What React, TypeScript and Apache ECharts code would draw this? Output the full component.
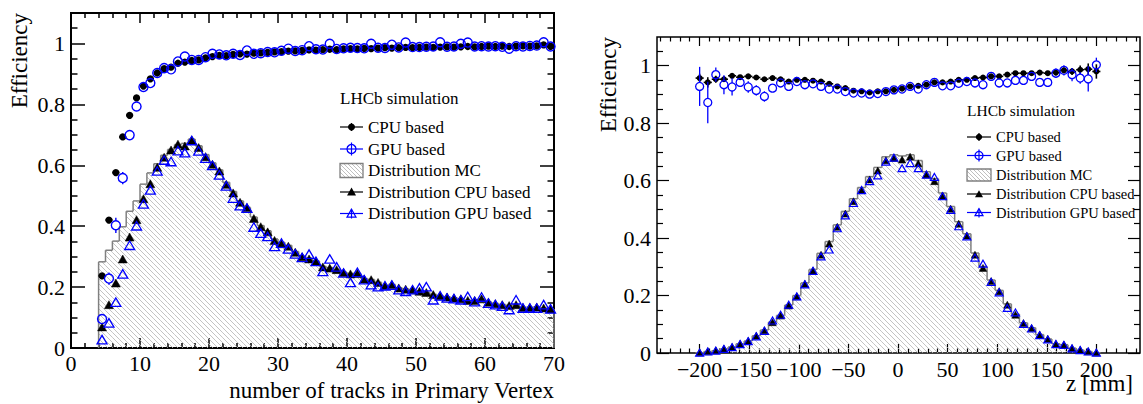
import React, { useEffect, useRef } from "react";
import * as echarts from "echarts";

// ---------------- Left panel: efficiency vs number of tracks ----------------
const trackBins = [4.5,5.5,6.5,7.5,8.5,9.5,10.5,11.5,12.5,13.5,14.5,15.5,16.5,17.5,18.5,19.5,20.5,21.5,22.5,23.5,24.5,25.5,26.5,27.5,28.5,29.5,30.5,31.5,32.5,33.5,34.5,35.5,36.5,37.5,38.5,39.5,40.5,41.5,42.5,43.5,44.5,45.5,46.5,47.5,48.5,49.5,50.5,51.5,52.5,53.5,54.5,55.5,56.5,57.5,58.5,59.5,60.5,61.5,62.5,63.5,64.5,65.5,66.5,67.5,68.5,69.5];
const trackHalfWidth = 0.5;
const mcTracks = [
  0.283,0.321,0.351,0.398,0.449,0.483,0.538,0.575,0.605,0.633,0.652,0.668,0.672,0.686,0.664,0.635,0.608,0.585,
  0.544,0.514,0.483,0.462,0.430,0.402,0.385,0.358,0.347,0.337,
  0.317,0.302,0.295,0.286,0.268,0.264,0.258,0.249,0.245,0.245,
  0.228,0.225,0.216,0.205,0.209,0.198,0.194,0.192,0.187,0.183,
  0.176,0.172,0.168,0.165,0.162,0.157,0.157,0.161,0.151,0.146,
  0.143,0.140,0.142,0.134,0.134,0.135,0.131,0.128];
const cpuDistTracks = [
  0.068,0.141,0.212,0.291,0.363,0.420,0.489,0.538,0.592,0.625,0.649,0.668,0.662,0.682,0.657,0.627,0.602,0.580,
  0.536,0.508,0.477,0.460,0.424,0.397,0.380,0.352,0.341,0.333,
  0.313,0.298,0.291,0.283,0.265,0.261,0.256,0.247,0.242,0.243,
  0.225,0.223,0.214,0.203,0.207,0.196,0.192,0.190,0.185,0.181,
  0.174,0.170,0.166,0.163,0.160,0.155,0.155,0.160,0.149,0.144,
  0.141,0.138,0.141,0.132,0.132,0.133,0.130,0.127];
const gpuDistTracks = [
  0.026,0.081,0.149,0.242,0.336,0.400,0.472,0.518,0.580,0.616,0.611,0.647,0.640,0.680,0.646,0.622,0.598,0.567,
  0.531,0.491,0.466,0.458,0.396,0.376,0.365,0.332,0.343,0.324,
  0.308,0.296,0.307,0.283,0.250,0.291,0.265,0.245,0.214,0.247,
  0.223,0.207,0.200,0.203,0.205,0.190,0.185,0.190,0.196,0.200,
  0.157,0.170,0.163,0.161,0.157,0.168,0.151,0.166,0.146,0.141,
  0.136,0.125,0.157,0.130,0.130,0.130,0.141,0.127];
const cpuEffTracks = [
  0.237,0.420,0.576,0.693,0.764,0.821,0.860,0.884,0.903,0.917,0.922,0.935,0.939,0.944,0.946,0.953,0.957,0.961,
  0.960,0.964,0.966,0.965,0.968,0.969,0.971,0.972,0.973,0.975,
  0.976,0.977,0.979,0.978,0.980,0.981,0.980,0.982,0.983,0.982,
  0.984,0.983,0.985,0.986,0.985,0.986,0.987,0.986,0.987,0.988,
  0.987,0.988,0.989,0.988,0.989,0.990,0.989,0.990,0.991,0.990,
  0.991,0.990,0.991,0.992,0.991,0.992,0.995,0.990];
const gpuEffTracks = [
  0.095,0.228,0.403,0.558,0.699,0.793,0.857,0.870,0.903,0.919,0.915,0.941,0.957,0.946,0.946,0.955,0.966,0.964,
  0.961,0.966,0.962,0.977,0.966,0.968,0.972,0.971,0.976,0.983,
  0.975,0.978,0.991,0.981,0.980,0.999,0.982,0.984,0.986,0.985,
  0.984,0.999,0.986,0.985,0.996,0.987,1.003,0.988,0.988,0.989,
  0.990,1.004,0.989,0.990,0.999,1.003,0.990,0.991,0.990,0.991,
  0.989,0.983,0.991,0.990,0.992,0.993,1.004,0.990];
const cpuErrTracks = [
  0.008,0.008,0.007,0.006,0.005,0.004,0.004,0.003,0.003,0.003,
  0.003,0.003,0.003,0.002,0.002,0.002,0.002,0.002,0.002,0.002,
  0.002,0.002,0.002,0.002,0.002,0.002,0.002,0.002,0.002,0.002,
  0.002,0.002,0.002,0.002,0.002,0.002,0.002,0.002,0.002,0.002,
  0.002,0.002,0.002,0.002,0.002,0.002,0.002,0.002,0.002,0.002,
  0.002,0.002,0.002,0.002,0.002,0.002,0.002,0.002,0.002,0.002,
  0.002,0.002,0.002,0.002,0.002,0.002];
const gpuErrTracks = [
  0.016,0.020,0.025,0.020,0.015,0.012,0.010,0.008,0.007,0.006,
  0.006,0.005,0.005,0.005,0.005,0.005,0.004,0.004,0.004,0.004,
  0.004,0.004,0.004,0.004,0.004,0.004,0.004,0.004,0.004,0.004,
  0.004,0.004,0.004,0.004,0.004,0.004,0.004,0.004,0.004,0.004,
  0.004,0.004,0.004,0.004,0.004,0.004,0.004,0.004,0.004,0.004,
  0.004,0.004,0.004,0.004,0.004,0.004,0.004,0.004,0.004,0.004,
  0.004,0.004,0.004,0.004,0.004,0.004];

// ---------------- Right panel: efficiency vs z ----------------
const zBins = [
  -200.0,-191.8,-183.7,-175.5,-167.3,-159.2,-151.0,-142.9,-134.7,-126.5,
  -118.4,-110.2,-102.0,-93.9,-85.7,-77.6,-69.4,-61.2,-53.1,-44.9,
  -36.7,-28.6,-20.4,-12.2,-4.1,4.1,12.2,20.4,28.6,36.7,
  44.9,53.1,61.2,69.4,77.6,85.7,93.9,102.0,110.2,118.4,
  126.5,134.7,142.9,151.0,159.2,167.3,175.5,183.7,191.8,200.0];
const zHalfWidth = 4.08;
const mcZ = [
  0.001,0.005,0.008,0.014,0.021,0.032,0.042,0.060,0.080,0.108,
  0.131,0.167,0.200,0.244,0.291,0.347,0.388,0.446,0.493,0.537,
  0.576,0.614,0.646,0.683,0.690,0.686,0.690,0.670,0.631,0.607,
  0.557,0.510,0.457,0.415,0.348,0.301,0.254,0.218,0.171,0.135,
  0.105,0.088,0.064,0.049,0.032,0.029,0.017,0.010,0.005,0.001];
const cpuDistZ = [
  0.001,0.005,0.008,0.014,0.020,0.031,0.041,0.059,0.078,0.106,
  0.129,0.164,0.196,0.240,0.286,0.341,0.380,0.438,0.484,0.527,
  0.566,0.603,0.634,0.670,0.678,0.672,0.682,0.659,0.620,0.597,
  0.547,0.501,0.449,0.408,0.341,0.295,0.249,0.214,0.167,0.132,
  0.103,0.086,0.063,0.048,0.031,0.028,0.016,0.010,0.005,0.001];
const gpuDistZ = [
  0.000,0.004,0.007,0.013,0.019,0.030,0.040,0.057,0.076,0.112,
  0.132,0.167,0.196,0.238,0.285,0.335,0.359,0.433,0.478,0.521,
  0.566,0.597,0.617,0.665,0.679,0.642,0.660,0.642,0.620,0.612,
  0.545,0.497,0.440,0.405,0.331,0.310,0.246,0.210,0.156,0.140,
  0.100,0.084,0.061,0.046,0.030,0.027,0.015,0.009,0.004,0.000];
const cpuEffZ = [
  0.957,0.942,0.953,0.953,0.965,0.960,0.963,0.959,0.953,0.957,
  0.953,0.945,0.951,0.951,0.948,0.945,0.937,0.928,0.922,0.913,
  0.911,0.907,0.911,0.911,0.916,0.920,0.928,0.930,0.934,0.942,
  0.942,0.945,0.951,0.951,0.957,0.959,0.963,0.963,0.969,0.974,
  0.974,0.974,0.976,0.974,0.976,0.984,0.980,0.986,0.988,0.980];
const gpuEffZ = [
  0.928,0.872,0.969,0.934,0.926,0.942,0.926,0.914,0.893,0.922,
  0.940,0.928,0.945,0.934,0.937,0.928,0.919,0.919,0.910,0.905,
  0.905,0.901,0.903,0.910,0.916,0.919,0.928,0.919,0.934,0.942,
  0.930,0.930,0.939,0.945,0.940,0.934,0.963,0.940,0.940,0.949,
  0.949,0.963,0.942,0.942,0.974,0.984,0.969,0.957,0.954,1.003];
const cpuErrZ = [
  0.015,0.018,0.012,0.010,0.009,0.008,0.007,0.006,0.006,0.005,
  0.005,0.005,0.004,0.004,0.004,0.004,0.003,0.003,0.003,0.003,
  0.003,0.003,0.003,0.003,0.003,0.003,0.003,0.003,0.003,0.003,
  0.003,0.003,0.003,0.003,0.004,0.004,0.004,0.004,0.005,0.005,
  0.006,0.006,0.007,0.008,0.009,0.010,0.012,0.015,0.020,0.025];
const gpuErrZ = [
  0.068,0.072,0.025,0.033,0.030,0.015,0.020,0.018,0.018,0.012,
  0.010,0.010,0.009,0.008,0.008,0.007,0.007,0.006,0.006,0.006,
  0.006,0.006,0.006,0.006,0.006,0.006,0.006,0.006,0.006,0.006,
  0.006,0.007,0.007,0.007,0.008,0.008,0.009,0.010,0.010,0.012,
  0.012,0.014,0.014,0.014,0.016,0.018,0.023,0.020,0.044,0.025];

// ---------------- Ticks & labels ----------------
const trackTicksMajor = [0, 10, 20, 30, 40, 50, 60, 70];
const trackTicksMinor = [2,4,6,8,12,14,16,18,22,24,26,28,32,34,36,38,42,44,46,48,52,54,56,58,62,64,66,68];
const effTicksMajor = [0, 0.2, 0.4, 0.6, 0.8, 1];
const effTicksMinor = [0.05,0.1,0.15,0.25,0.3,0.35,0.45,0.5,0.55,0.65,0.7,0.75,0.85,0.9,0.95,1.05];
const zTicksMajor = [-200, -150, -100, -50, 0, 50, 100, 150, 200];
const zTicksMinor = [-240,-230,-220,-210,-190,-180,-170,-160,-140,-130,-120,-110,-90,-80,-70,-60,-40,-30,-20,-10,10,20,30,40,60,70,80,90,110,120,130,140,160,170,180,190,210,220,230,240];

const legendTitle = "LHCb simulation";
const legendLabels = ["CPU based", "GPU based", "Distribution MC", "Distribution CPU based", "Distribution GPU based"];
const leftXTitle = "number of tracks in Primary Vertex";
const rightXTitle = "z [mm]";
const yTitle = "Efficiency";

const FONT = "Liberation Serif";
const BLUE = "#0000ff";
const BLACK = "#000000";
const HATCH = "#b8b8b8";
const OUTLINE = "#808080";

function hatchSegments(x0: number, y0: number, x1: number, y1: number, s: number) {
  const out: number[][] = [];
  const kMin = Math.ceil((y0 - x1) / s);
  const kMax = Math.floor((y1 - x0) / s);
  for (let k = kMin; k <= kMax; k++) {
    const c = k * s;
    const xa = Math.max(x0, y0 - c);
    const xb = Math.min(x1, y1 - c);
    if (xb > xa) out.push([xa, xa + c, xb, xb + c]);
  }
  return out;
}

const histRender = (params: any, api: any) => {
  const c = api.value(0), v = api.value(1), pv = api.value(2), hw = api.value(3), last = api.value(4);
  const pTL = api.coord([c - hw, v]);
  const pBR = api.coord([c + hw, 0]);
  const yP = api.coord([c - hw, pv])[1];
  const xL = pTL[0], yT = pTL[1], xR = pBR[0], yB = pBR[1];
  const segs = hatchSegments(xL, yT, xR, yB, 5);
  const d = segs.map((s) => `M${s[0].toFixed(2)} ${s[1].toFixed(2)}L${s[2].toFixed(2)} ${s[3].toFixed(2)}`).join("");
  const st = { stroke: OUTLINE, lineWidth: 1.5 };
  const children: any[] = [];
  if (d) children.push({ type: "path", shape: { pathData: d }, style: { stroke: HATCH, lineWidth: 0.85, fill: null } });
  children.push({ type: "line", shape: { x1: xL, y1: yT, x2: xR, y2: yT }, style: st });
  children.push({ type: "line", shape: { x1: xL, y1: yP, x2: xL, y2: yT }, style: st });
  if (last) children.push({ type: "line", shape: { x1: xR, y1: yT, x2: xR, y2: yB }, style: st });
  return { type: "group", children };
};

const pointRender = (o: { color: string; r: number; open: boolean; lw: number; barW: number }) => (params: any, api: any) => {
  const x = api.value(0), y = api.value(1), e = api.value(2), hw = api.value(3);
  const p = api.coord([x, y]);
  const cx = p[0], cy = p[1];
  const yTop = api.coord([x, y + e])[1];
  const yBot = api.coord([x, y - e])[1];
  const xL = api.coord([x - hw, y])[0];
  const xR = api.coord([x + hw, y])[0];
  const g = o.open ? o.r : 0;
  const st = { stroke: o.color, lineWidth: o.barW };
  const ch: any[] = [];
  if (cy - yTop > g) ch.push({ type: "line", shape: { x1: cx, y1: yTop, x2: cx, y2: cy - g }, style: st });
  if (yBot - cy > g) ch.push({ type: "line", shape: { x1: cx, y1: cy + g, x2: cx, y2: yBot }, style: st });
  if (cx - xL > g) ch.push({ type: "line", shape: { x1: xL, y1: cy, x2: cx - g, y2: cy }, style: st });
  if (xR - cx > g) ch.push({ type: "line", shape: { x1: cx + g, y1: cy, x2: xR, y2: cy }, style: st });
  ch.push({
    type: "circle",
    shape: { cx, cy, r: o.r },
    style: o.open ? { fill: null, stroke: o.color, lineWidth: o.lw } : { fill: o.color },
  });
  return { type: "group", children: ch };
};

const triPoints = (cx: number, cy: number, w: number, h: number) => [
  [cx, cy - h * 0.55],
  [cx - w / 2, cy + h * 0.45],
  [cx + w / 2, cy + h * 0.45],
];

const triRender = (o: { color: string; w: number; h: number; open: boolean; lw: number }) => (params: any, api: any) => {
  const p = api.coord([api.value(0), api.value(1)]);
  return {
    type: "polygon",
    shape: { points: triPoints(p[0], p[1], o.w, o.h) },
    style: o.open ? { fill: null, stroke: o.color, lineWidth: o.lw } : { fill: o.color, stroke: o.color, lineWidth: 0.5 },
  };
};

const histData = (centers: number[], vals: number[], hw: number) =>
  centers.map((c, i) => [c, vals[i], i === 0 ? 0 : vals[i - 1], hw, i === centers.length - 1 ? 1 : 0]);
const ptData = (centers: number[], vals: number[], errs: number[], hw: number) =>
  centers.map((c, i) => [c, vals[i], errs[i], hw]);
const triData = (centers: number[], vals: number[]) => centers.map((c, i) => [c, vals[i]]);

const mkAxis = (gridIndex: number, min: number, max: number, position: string, ticks: number[], len: number, w: number, extra: any = {}) => ({
  type: "value",
  gridIndex,
  min,
  max,
  position,
  splitLine: { show: false },
  axisLine: { show: false, onZero: false },
  axisTick: { show: true, inside: true, length: len, customValues: ticks, lineStyle: { color: BLACK, width: w } },
  axisLabel: { show: false },
  nameMoveOverlap: false,
  ...extra,
});

const labelStyle = (margin: number, formatter?: any) => ({
  show: true,
  fontSize: 22,
  fontFamily: FONT,
  color: BLACK,
  margin,
  ...(formatter ? { formatter } : {}),
});

function legendElements(o: {
  x0: number; x1: number; textX: number; titleY: number; rows: number[];
  font: number; titleFont: number; r: number; ro: number; tw: number; th: number; boxH: number;
}) {
  const els: any[] = [];
  const cx = (o.x0 + o.x1) / 2;
  const text = (x: number, y: number, s: string, size: number) => ({
    type: "text", x, y, silent: true,
    style: { text: s, fill: BLACK, fontSize: size, fontFamily: FONT, align: "left", verticalAlign: "middle", textAlign: "left", textVerticalAlign: "middle" },
  });
  const line = (x1: number, y1: number, x2: number, y2: number, c: string, lw = 1.2) => ({
    type: "line", silent: true, shape: { x1, y1, x2, y2 }, style: { stroke: c, lineWidth: lw },
  });
  els.push(text(o.x0, o.titleY, legendTitle, o.titleFont));
  const [y0, y1, y2, y3, y4] = o.rows;
  // CPU based
  els.push(line(o.x0, y0, o.x1, y0, BLACK));
  els.push(line(cx, y0 - 4, cx, y0 + 4, BLACK));
  els.push({ type: "circle", silent: true, shape: { cx, cy: y0, r: o.r }, style: { fill: BLACK } });
  // GPU based
  els.push(line(o.x0, y1, o.x1, y1, BLUE));
  els.push(line(cx, y1 - o.ro - 2, cx, y1 + o.ro + 2, BLUE));
  els.push({ type: "circle", silent: true, shape: { cx, cy: y1, r: o.ro }, style: { fill: null, stroke: BLUE, lineWidth: 1.3 } });
  // Distribution MC
  const bx0 = o.x0, bx1 = o.x1, by0 = y2 - o.boxH / 2, by1 = y2 + o.boxH / 2;
  hatchSegments(bx0, by0, bx1, by1, 4).forEach((s) => els.push(line(s[0], s[1], s[2], s[3], HATCH, 0.9)));
  els.push({ type: "rect", silent: true, shape: { x: bx0, y: by0, width: bx1 - bx0, height: by1 - by0 }, style: { fill: null, stroke: OUTLINE, lineWidth: 1.3 } });
  // Distribution CPU based
  els.push(line(o.x0, y3, o.x1, y3, BLACK));
  els.push({ type: "polygon", silent: true, shape: { points: triPoints(cx, y3, o.tw, o.th) }, style: { fill: BLACK } });
  // Distribution GPU based
  els.push(line(o.x0, y4, o.x1, y4, BLUE));
  els.push(line(cx, y4 - o.th * 0.55, cx, y4 + 5, BLUE));
  els.push({ type: "polygon", silent: true, shape: { points: triPoints(cx, y4, o.tw, o.th) }, style: { fill: null, stroke: BLUE, lineWidth: 1.2 } });
  legendLabels.forEach((s, i) => els.push(text(o.textX, o.rows[i], s, o.font)));
  return els;
}

export default function App() {
  const ref = useRef<HTMLDivElement>(null);
  useEffect(() => {
    if (!ref.current) return;
    const chart = echarts.init(ref.current, undefined, { renderer: "svg" });
    const zFmt = (v: number) => String(v).replace("-", "\u2212");
    const option: any = {
      animation: false,
      backgroundColor: "#ffffff",
      textStyle: { fontFamily: FONT },
      grid: [
        { left: 71, top: 13, width: 483, height: 335, show: true, borderColor: BLACK, borderWidth: 2, backgroundColor: "transparent", containLabel: false, outerBoundsMode: "none" },
        { left: 657, top: 37, width: 483, height: 316, show: true, borderColor: BLACK, borderWidth: 1.5, backgroundColor: "transparent", containLabel: false, outerBoundsMode: "none" },
      ],
      xAxis: [
        mkAxis(0, 0, 70, "bottom", trackTicksMajor, 10, 1.5, {
          axisLabel: { ...labelStyle(4), customValues: trackTicksMajor },
          name: leftXTitle, nameLocation: "end", nameGap: 0,
          nameTextStyle: { fontSize: 23, fontFamily: FONT, color: BLACK, align: "right", verticalAlign: "top", padding: [31, 0, 0, 0] },
        }),
        mkAxis(0, 0, 70, "bottom", trackTicksMinor, 5, 1.5),
        mkAxis(0, 0, 70, "top", trackTicksMajor, 10, 1.5),
        mkAxis(0, 0, 70, "top", trackTicksMinor, 5, 1.5),
        mkAxis(1, -243, 244, "bottom", zTicksMajor, 9, 1.2, {
          axisLabel: { ...labelStyle(5, zFmt), customValues: zTicksMajor },
          name: rightXTitle, nameLocation: "end", nameGap: 0,
          nameTextStyle: { fontSize: 23, fontFamily: FONT, color: BLACK, align: "right", verticalAlign: "top", padding: [19, 7, 0, 0] },
        }),
        mkAxis(1, -243, 244, "bottom", zTicksMinor, 4.5, 1.2),
        mkAxis(1, -243, 244, "top", zTicksMajor, 9, 1.2),
        mkAxis(1, -243, 244, "top", zTicksMinor, 4.5, 1.2),
      ],
      yAxis: [
        mkAxis(0, 0, 1.1, "left", effTicksMajor, 14, 1.5, {
          axisLabel: { ...labelStyle(6), customValues: effTicksMajor },
          name: yTitle, nameLocation: "end", nameGap: 0, nameRotate: 90,
          nameTextStyle: { fontSize: 23, fontFamily: FONT, color: BLACK, align: "right", verticalAlign: "bottom", padding: [0, 0, 40, 0] },
        }),
        mkAxis(0, 0, 1.1, "left", effTicksMinor, 6.5, 1.5),
        mkAxis(0, 0, 1.1, "right", effTicksMajor, 14, 1.5),
        mkAxis(0, 0, 1.1, "right", effTicksMinor, 6.5, 1.5),
        mkAxis(1, 0, 1.1, "left", effTicksMajor, 12, 1.2, {
          axisLabel: { ...labelStyle(6), customValues: effTicksMajor },
          name: yTitle, nameLocation: "end", nameGap: 0, nameRotate: 90,
          nameTextStyle: { fontSize: 23, fontFamily: FONT, color: BLACK, align: "right", verticalAlign: "bottom", padding: [0, 0, 37, 0] },
        }),
        mkAxis(1, 0, 1.1, "left", effTicksMinor, 6, 1.2),
        mkAxis(1, 0, 1.1, "right", effTicksMajor, 12, 1.2),
        mkAxis(1, 0, 1.1, "right", effTicksMinor, 6, 1.2),
      ],
      series: [
        // left panel
        { name: legendLabels[2], type: "custom", xAxisIndex: 0, yAxisIndex: 0, z: 1, renderItem: histRender, data: histData(trackBins, mcTracks, trackHalfWidth) },
        { name: legendLabels[3], type: "custom", xAxisIndex: 0, yAxisIndex: 0, z: 2, renderItem: triRender({ color: BLACK, w: 9, h: 8, open: false, lw: 1 }), data: triData(trackBins, cpuDistTracks) },
        { name: legendLabels[4], type: "custom", xAxisIndex: 0, yAxisIndex: 0, z: 3, renderItem: triRender({ color: BLUE, w: 10, h: 8.5, open: true, lw: 1.3 }), data: triData(trackBins, gpuDistTracks) },
        { name: legendLabels[0], type: "custom", xAxisIndex: 0, yAxisIndex: 0, z: 4, renderItem: pointRender({ color: BLACK, r: 3.6, open: false, lw: 1, barW: 2 }), data: ptData(trackBins, cpuEffTracks, cpuErrTracks, trackHalfWidth) },
        { name: legendLabels[1], type: "custom", xAxisIndex: 0, yAxisIndex: 0, z: 5, renderItem: pointRender({ color: BLUE, r: 4.5, open: true, lw: 1.4, barW: 1.4 }), data: ptData(trackBins, gpuEffTracks, gpuErrTracks, trackHalfWidth) },
        // right panel
        { name: legendLabels[2], type: "custom", xAxisIndex: 4, yAxisIndex: 4, z: 1, renderItem: histRender, data: histData(zBins, mcZ, zHalfWidth) },
        { name: legendLabels[3], type: "custom", xAxisIndex: 4, yAxisIndex: 4, z: 2, renderItem: triRender({ color: BLACK, w: 7.5, h: 7, open: false, lw: 1 }), data: triData(zBins, cpuDistZ) },
        { name: legendLabels[4], type: "custom", xAxisIndex: 4, yAxisIndex: 4, z: 3, renderItem: triRender({ color: BLUE, w: 8, h: 7, open: true, lw: 1.2 }), data: triData(zBins, gpuDistZ) },
        { name: legendLabels[0], type: "custom", xAxisIndex: 4, yAxisIndex: 4, z: 4, renderItem: pointRender({ color: BLACK, r: 3, open: false, lw: 1, barW: 1.6 }), data: ptData(zBins, cpuEffZ, cpuErrZ, zHalfWidth) },
        { name: legendLabels[1], type: "custom", xAxisIndex: 4, yAxisIndex: 4, z: 5, renderItem: pointRender({ color: BLUE, r: 4, open: true, lw: 1.3, barW: 1.3 }), data: ptData(zBins, gpuEffZ, gpuErrZ, 0) },
      ],
      graphic: {
        elements: [
          ...legendElements({ x0: 340, x1: 363, textX: 368, titleY: 98, rows: [127, 149, 170.5, 192, 213.5], font: 17, titleFont: 17, r: 3.5, ro: 4.5, tw: 9, th: 8, boxH: 14 }),
          ...legendElements({ x0: 967, x1: 991, textX: 996, titleY: 110, rows: [137, 155.5, 175, 194, 212.5], font: 14.5, titleFont: 15.5, r: 3.2, ro: 4, tw: 8, th: 7, boxH: 12 }),
        ],
      },
    };
    chart.setOption(option);
    return () => chart.dispose();
  }, []);
  return <div ref={ref} style={{ position: "absolute", left: 0, top: 0, width: 1143, height: 404 }} />;
}
